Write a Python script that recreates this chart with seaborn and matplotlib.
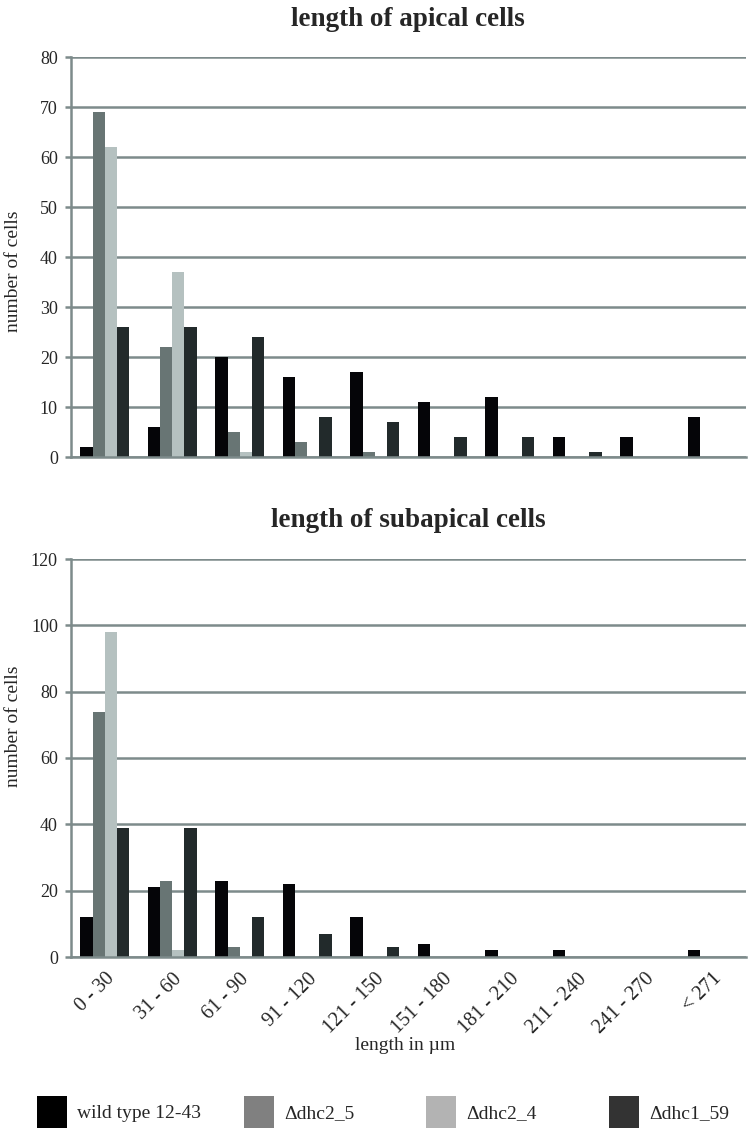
import pandas as pd
import matplotlib.pyplot as plt
import seaborn as sns
from matplotlib.patches import Patch

# length classes (µm) and strains
ranges = ["0 - 30", "31 - 60", "61 - 90", "91 - 120", "121 - 150",
          "151 - 180", "181 - 210", "211 - 240", "241 - 270", "< 271"]
strains = ["wild type 12-43", "Δdhc2_5", "Δdhc2_4", "Δdhc1_59"]

# apical cells
apical_wt = [2, 6, 20, 16, 17, 11, 12, 4, 4, 8]
apical_dhc2_5 = [69, 22, 5, 3, 1, 0, 0, 0, 0, 0]
apical_dhc2_4 = [62, 37, 1, 0, 0, 0, 0, 0, 0, 0]
apical_dhc1_59 = [26, 26, 24, 8, 7, 4, 4, 1, 0, 0]

# subapical cells
sub_wt = [12, 21, 23, 22, 12, 4, 2, 2, 0, 2]
sub_dhc2_5 = [74, 23, 3, 0, 0, 0, 0, 0, 0, 0]
sub_dhc2_4 = [98, 2, 0, 0, 0, 0, 0, 0, 0, 0]
sub_dhc1_59 = [39, 39, 12, 7, 3, 0, 0, 0, 0, 0]

bar_colors = ["#050508", "#687574", "#b5c1c0", "#222a2b"]
legend_colors = ["#000000", "#808080", "#b3b3b3", "#333333"]
grid_col = "#7d8b8b"


def long_form(series):
    rows = []
    for name, vals in zip(strains, series):
        for r, v in zip(ranges, vals):
            rows.append({"range": r, "strain": name, "count": v})
    return pd.DataFrame(rows)


df_apical = long_form([apical_wt, apical_dhc2_5, apical_dhc2_4, apical_dhc1_59])
df_sub = long_form([sub_wt, sub_dhc2_5, sub_dhc2_4, sub_dhc1_59])

sns.set_theme(style="white")
plt.rcParams["font.family"] = ["Liberation Serif", "DejaVu Serif"]

W, H = 749, 1134
fig = plt.figure(figsize=(W / 100, H / 100), dpi=100)
ax1 = fig.add_axes([71 / W, 1 - 457 / H, 675 / W, 400 / H])
ax2 = fig.add_axes([71 / W, 1 - 957 / H, 675 / W, 398 / H])

for ax, df, ymax, ylab_y in [(ax1, df_apical, 80, 0.465), (ax2, df_sub, 120, 0.58)]:
    sns.barplot(data=df, x="range", y="count", hue="strain", hue_order=strains,
                order=ranges, palette=bar_colors, width=0.72, saturation=1,
                linewidth=0, legend=False, errorbar=None, ax=ax)
    ax.set_xlim(-0.5, 9.5)
    ax.set_ylim(0, ymax)
    ax.set_yticks(range(0, ymax + 1, 20 if ymax > 80 else 10))
    ax.yaxis.grid(True, color=grid_col, lw=1.8)
    ax.set_axisbelow(True)
    for s in ["top", "right"]:
        ax.spines[s].set_visible(False)
    for s in ["left", "bottom"]:
        ax.spines[s].set_color(grid_col)
        ax.spines[s].set_linewidth(1.8)
    ax.tick_params(axis="y", length=4.5, width=1.8, color=grid_col,
                   labelsize=13, pad=5, left=True)
    ax.tick_params(axis="x", length=0)
    ax.set_ylabel("number of cells", fontsize=14)
    ax.yaxis.set_label_coords(-0.072, ylab_y)
    ax.set_xlabel("")

ax1.set_xticklabels([])
ax2.set_xticks(range(len(ranges)))
ax2.set_xticklabels(ranges, rotation=45, ha="right", rotation_mode="anchor",
                    fontsize=14.5)
ax2.tick_params(axis="x", pad=9)

fig.text(408 / W, 1 - 20 / H, "length of apical cells", ha="center", va="center",
         fontsize=19.5, fontweight="bold")
fig.text(408 / W, 1 - 521 / H, "length of subapical cells", ha="center", va="center",
         fontsize=19.5, fontweight="bold")
fig.text(405 / W, 1 - 1045 / H, "length in µm", ha="center", va="center", fontsize=14)

# one legend entry per slot, like the original's evenly spread legend
legend_x = [37, 244, 426, 609]
for x, c, s in zip(legend_x, legend_colors, strains):
    leg = fig.legend(handles=[Patch(facecolor=c, edgecolor="none", label=s)],
                     loc="center left", bbox_to_anchor=(x / W, 1 - 1112 / H),
                     frameon=False, fontsize=14, handlelength=1.55, handleheight=2.1,
                     handletextpad=0.5, borderpad=0, borderaxespad=0)

fig.savefig("out.png", dpi=100)
